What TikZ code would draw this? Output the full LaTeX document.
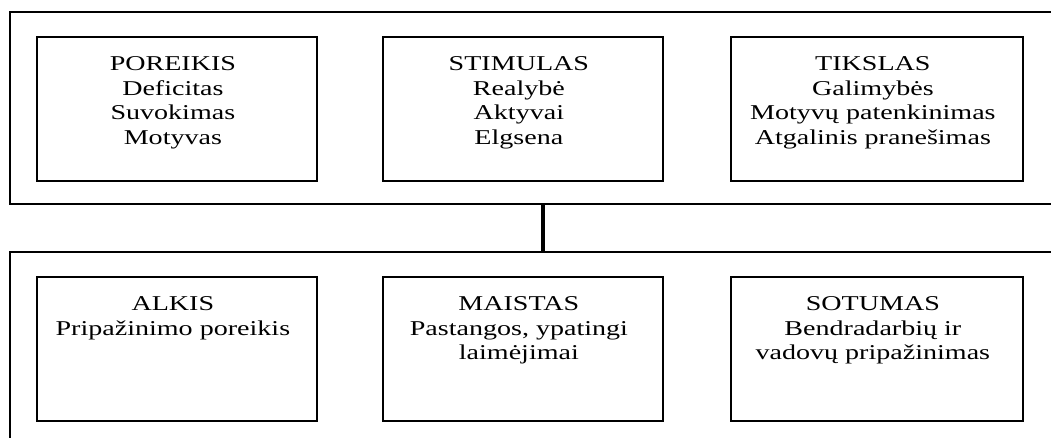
\documentclass[tikz,border=0pt]{standalone}
\usepackage{fontspec}
\setmainfont[FakeStretch=1.33]{Liberation Serif}
\begin{document}
\begin{tikzpicture}[x=0.025cm,y=-0.025cm,
        frame/.style={line width=1.2pt},
        card/.style={draw,line width=1.2pt,anchor=north west,inner sep=0pt,minimum width=7cm,minimum height=3.6cm},
        words/.style={anchor=north,align=center,inner sep=0pt,font=\fontsize{15pt}{17.6pt}\selectfont},
        link/.style={line width=2.4pt}]
    \useasboundingbox (0,0) rectangle (1051,437);
    \draw[frame] (1060,12) -| (10,204) -- (1060,204);
    \draw[frame] (1060,252) -| (10,450);
    \node[card] (poreikis) at (36,36) {};
    \node[card] (stimulas) at (382,36) {};
    \node[card,minimum width=7.3cm] (tikslas) at (730,36) {};
    \node[card] (alkis) at (36,276) {};
    \node[card] (maistas) at (382,276) {};
    \node[card,minimum width=7.3cm] (sotumas) at (730,276) {};
    \node[words] (poreikis text) at ([xshift=-0.1cm,yshift=-0.5cm]poreikis.north) {POREIKIS\\Deficitas\\Suvokimas\\Motyvas};
    \node[words] (stimulas text) at ([xshift=-0.1cm,yshift=-0.5cm]stimulas.north) {STIMULAS\\Realybė\\Aktyvai\\Elgsena};
    \node[words] (tikslas text) at ([xshift=-0.1cm,yshift=-0.5cm]tikslas.north) {TIKSLAS\\Galimybės\\Motyvų patenkinimas\\Atgalinis pranešimas};
    \node[words] (alkis text) at ([xshift=-0.1cm,yshift=-0.5cm]alkis.north) {ALKIS\\Pripažinimo poreikis};
    \node[words] (maistas text) at ([xshift=-0.1cm,yshift=-0.5cm]maistas.north) {MAISTAS\\Pastangos, ypatingi\\laimėjimai};
    \node[words] (sotumas text) at ([xshift=-0.1cm,yshift=-0.5cm]sotumas.north) {SOTUMAS\\Bendradarbių ir\\vadovų pripažinimas};
    \coordinate (upper) at (543,204);
    \coordinate (lower) at (543,252);
    \draw[link] (upper) -- (lower);
\end{tikzpicture}
\end{document}
